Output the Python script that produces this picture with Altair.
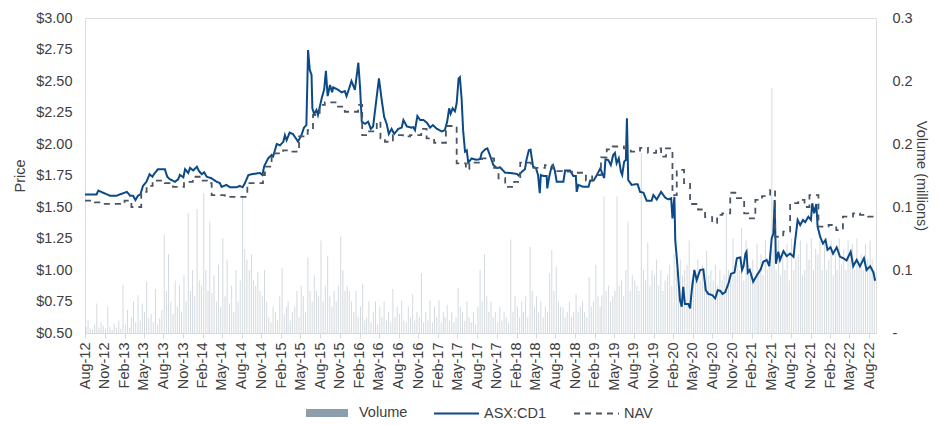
import altair as alt
import pandas as pd

# ---------------- data ----------------
PRICE_2012 = [("2012-08-01", 1.60), ("2012-09-24", 1.60), ("2012-10-02", 1.63), ("2012-11-25", 1.59), ("2012-12-26", 1.59)]
PRICE_2013 = [("2013-01-27", 1.61), ("2013-02-12", 1.62), ("2013-02-27", 1.59), ("2013-03-13", 1.59), ("2013-03-24", 1.555),
              ("2013-04-05", 1.59), ("2013-04-16", 1.60), ("2013-04-28", 1.667), ("2013-05-14", 1.70), ("2013-05-29", 1.76),
              ("2013-06-11", 1.74), ("2013-06-22", 1.77), ("2013-07-07", 1.80), ("2013-08-08", 1.80), ("2013-08-19", 1.74),
              ("2013-09-01", 1.72), ("2013-09-24", 1.70), ("2013-10-09", 1.72), ("2013-10-17", 1.755), ("2013-11-02", 1.735),
              ("2013-11-10", 1.80), ("2013-11-25", 1.77), ("2013-12-03", 1.81), ("2013-12-18", 1.79)]
PRICE_2014 = [("2014-01-04", 1.82), ("2014-01-14", 1.785), ("2014-01-27", 1.76), ("2014-02-07", 1.775), ("2014-02-19", 1.74),
              ("2014-03-13", 1.728), ("2014-04-06", 1.70), ("2014-04-21", 1.69), ("2014-04-29", 1.66), ("2014-05-22", 1.675),
              ("2014-06-07", 1.657), ("2014-07-08", 1.657), ("2014-07-23", 1.667), ("2014-08-05", 1.657), ("2014-08-16", 1.69),
              ("2014-09-01", 1.754), ("2014-09-16", 1.76), ("2014-10-25", 1.77), ("2014-11-05", 1.754), ("2014-11-14", 1.825),
              ("2014-12-02", 1.886), ("2014-12-18", 1.913), ("2014-12-25", 1.90)]
PRICE_2015 = [("2015-01-11", 2.0), ("2015-01-26", 1.99), ("2015-02-11", 2.018), ("2015-02-18", 2.07), ("2015-02-26", 2.03),
              ("2015-03-12", 2.09), ("2015-03-27", 2.08), ("2015-04-20", 2.02), ("2015-05-06", 2.07), ("2015-05-18", 2.13),
              ("2015-05-29", 2.15), ("2015-06-06", 2.746), ("2015-06-14", 2.587), ("2015-06-22", 2.55), ("2015-06-26", 2.283),
              ("2015-07-04", 2.238), ("2015-07-15", 2.27), ("2015-07-22", 2.23), ("2015-08-08", 2.36), ("2015-08-20", 2.434),
              ("2015-08-28", 2.58), ("2015-09-05", 2.38), ("2015-09-16", 2.468), ("2015-09-26", 2.41), ("2015-10-01", 2.45),
              ("2015-10-24", 2.43), ("2015-11-09", 2.41), ("2015-11-24", 2.42), ("2015-12-02", 2.38), ("2015-12-17", 2.455),
              ("2015-12-25", 2.50)]
PRICE_2016 = [("2016-01-10", 2.43), ("2016-01-26", 2.645), ("2016-02-03", 2.45), ("2016-02-11", 2.177), ("2016-02-26", 2.16),
              ("2016-03-12", 2.177), ("2016-03-24", 2.12), ("2016-04-04", 2.14), ("2016-04-15", 2.296), ("2016-05-01", 2.52),
              ("2016-05-13", 2.36), ("2016-05-25", 2.217), ("2016-06-06", 2.16), ("2016-06-16", 2.08), ("2016-06-29", 2.12),
              ("2016-07-11", 2.08), ("2016-07-30", 2.12), ("2016-08-15", 2.13), ("2016-08-23", 2.19), ("2016-09-08", 2.14),
              ("2016-10-01", 2.13), ("2016-10-08", 2.133), ("2016-10-16", 2.11), ("2016-10-27", 2.222), ("2016-11-09", 2.19),
              ("2016-11-24", 2.19), ("2016-12-10", 2.17), ("2016-12-25", 2.13)]
PRICE_2017 = [("2017-01-07", 2.15), ("2017-01-26", 2.12), ("2017-02-18", 2.10), ("2017-03-04", 2.11), ("2017-03-15", 2.18),
              ("2017-03-24", 2.283), ("2017-03-31", 2.24), ("2017-04-09", 2.283), ("2017-04-20", 2.26), ("2017-04-28", 2.323),
              ("2017-05-07", 2.52), ("2017-05-13", 2.53), ("2017-05-21", 2.36), ("2017-05-28", 2.11), ("2017-06-06", 1.94),
              ("2017-06-14", 1.95), ("2017-06-21", 1.852), ("2017-07-07", 1.885), ("2017-07-30", 1.875), ("2017-08-15", 1.88),
              ("2017-08-23", 1.93), ("2017-09-08", 1.958), ("2017-09-18", 1.965), ("2017-09-30", 1.91), ("2017-10-16", 1.833),
              ("2017-11-01", 1.81), ("2017-11-16", 1.815), ("2017-12-10", 1.772)]
PRICE_2018 = [("2018-01-03", 1.77), ("2018-02-03", 1.762), ("2018-02-10", 1.75), ("2018-02-26", 1.78), ("2018-03-12", 1.80),
              ("2018-03-19", 1.873), ("2018-03-30", 1.95), ("2018-04-07", 1.955), ("2018-04-19", 1.82), ("2018-05-02", 1.81),
              ("2018-05-12", 1.754), ("2018-05-20", 1.61), ("2018-05-25", 1.754), ("2018-06-05", 1.747), ("2018-06-21", 1.747),
              ("2018-06-24", 1.648), ("2018-07-03", 1.74), ("2018-07-14", 1.82), ("2018-07-21", 1.833), ("2018-07-29", 1.79),
              ("2018-08-07", 1.70), ("2018-09-07", 1.70), ("2018-09-15", 1.79), ("2018-10-08", 1.79), ("2018-10-23", 1.747),
              ("2018-11-04", 1.747), ("2018-11-08", 1.62), ("2018-11-16", 1.675), ("2018-12-09", 1.66)]
PRICE_2019 = [("2019-01-02", 1.66), ("2019-01-10", 1.71), ("2019-01-26", 1.71), ("2019-02-10", 1.754), ("2019-02-26", 1.807),
              ("2019-03-04", 1.78), ("2019-03-16", 1.73), ("2019-03-22", 1.878), ("2019-04-04", 1.873), ("2019-04-16", 1.833),
              ("2019-04-27", 1.913), ("2019-05-05", 1.93), ("2019-05-13", 1.847), ("2019-05-23", 1.886), ("2019-06-02", 1.78),
              ("2019-06-08", 1.754), ("2019-06-17", 1.86), ("2019-06-25", 1.873), ("2019-06-30", 2.204), ("2019-07-06", 1.714),
              ("2019-07-22", 1.675), ("2019-08-07", 1.68), ("2019-08-19", 1.68), ("2019-08-30", 1.62), ("2019-09-15", 1.613),
              ("2019-09-30", 1.55), ("2019-10-23", 1.55), ("2019-10-31", 1.595), ("2019-11-16", 1.56), ("2019-12-06", 1.62),
              ("2019-12-25", 1.575)]
PRICE_2020 = [("2020-01-10", 1.56), ("2020-01-22", 1.57), ("2020-01-28", 1.41), ("2020-02-06", 1.58), ("2020-02-10", 1.238),
              ("2020-02-18", 1.079), ("2020-02-25", 0.92), ("2020-03-03", 0.762), ("2020-03-11", 0.709), ("2020-03-18", 0.867),
              ("2020-03-26", 0.73), ("2020-04-11", 0.73), ("2020-04-19", 0.696), ("2020-04-27", 0.84), ("2020-05-09", 1.0),
              ("2020-05-20", 0.92), ("2020-06-05", 1.0), ("2020-06-20", 1.005), ("2020-07-01", 0.84), ("2020-07-13", 0.81),
              ("2020-08-01", 0.80), ("2020-08-14", 0.775), ("2020-08-26", 0.84), ("2020-09-07", 0.835), ("2020-09-17", 0.81),
              ("2020-09-30", 0.825), ("2020-10-15", 0.894), ("2020-10-27", 0.97), ("2020-11-12", 0.98), ("2020-11-23", 1.093),
              ("2020-12-09", 1.10), ("2020-12-17", 1.0), ("2020-12-24", 1.03)]
PRICE_2021 = [("2021-01-02", 1.13), ("2021-01-07", 1.145), ("2021-01-13", 0.98), ("2021-01-22", 1.0), ("2021-02-07", 0.907),
              ("2021-02-25", 0.96), ("2021-03-14", 1.005), ("2021-03-26", 1.066), ("2021-04-11", 1.08), ("2021-04-23", 1.03),
              ("2021-05-04", 1.25), ("2021-05-12", 1.29), ("2021-05-18", 1.556), ("2021-05-24", 1.05), ("2021-06-04", 1.145),
              ("2021-06-12", 1.08), ("2021-06-28", 1.15), ("2021-07-13", 1.11), ("2021-07-29", 1.13), ("2021-08-14", 1.105),
              ("2021-08-22", 1.238), ("2021-09-02", 1.397), ("2021-09-14", 1.357), ("2021-09-27", 1.397), ("2021-10-07", 1.38),
              ("2021-10-22", 1.423), ("2021-11-03", 1.397), ("2021-11-09", 1.53), ("2021-11-18", 1.45), ("2021-11-28", 1.524),
              ("2021-12-04", 1.344), ("2021-12-16", 1.264), ("2021-12-29", 1.21)]
PRICE_2022 = [("2022-01-10", 1.238), ("2022-01-19", 1.16), ("2022-02-02", 1.18), ("2022-02-14", 1.13), ("2022-03-03", 1.18),
              ("2022-03-18", 1.106), ("2022-04-03", 1.093), ("2022-04-18", 1.076), ("2022-05-07", 1.145), ("2022-05-19", 1.03),
              ("2022-06-04", 1.08), ("2022-06-19", 1.03), ("2022-07-08", 1.093), ("2022-07-20", 1.0), ("2022-08-06", 1.03),
              ("2022-08-21", 0.98), ("2022-08-29", 0.915)]

NAV_2012_2014 = [("2012-08-01", 1.55), ("2012-09-16", 1.536), ("2012-11-01", 1.525), ("2013-01-11", 1.536), ("2013-02-01", 1.55),
                 ("2013-03-05", 1.50), ("2013-04-20", 1.62), ("2013-05-15", 1.667), ("2013-06-12", 1.71), ("2013-08-08", 1.69),
                 ("2013-09-15", 1.66), ("2013-11-05", 1.70), ("2013-12-16", 1.74), ("2014-01-23", 1.71), ("2014-02-20", 1.69),
                 ("2014-03-14", 1.595), ("2014-05-14", 1.58), ("2014-08-27", 1.69), ("2014-11-08", 1.754), ("2014-11-17", 1.82),
                 ("2014-12-18", 1.90), ("2014-12-24", 1.926)]
NAV_2015_2017 = [("2015-02-10", 1.95), ("2015-03-16", 1.94), ("2015-04-25", 2.06), ("2015-06-04", 2.11), ("2015-06-29", 2.23),
                 ("2015-07-30", 2.31), ("2015-08-23", 2.33), ("2015-10-18", 2.296), ("2015-11-24", 2.256), ("2016-01-25", 2.31),
                 ("2016-02-13", 2.07), ("2016-03-10", 2.10), ("2016-04-21", 2.177), ("2016-05-08", 2.045), ("2016-05-29", 2.018),
                 ("2016-07-05", 2.07), ("2016-08-21", 2.06), ("2016-09-23", 2.07), ("2016-11-14", 2.12), ("2016-12-09", 2.045),
                 ("2017-01-13", 2.01), ("2017-03-09", 2.143), ("2017-04-28", 1.847), ("2017-06-10", 1.80), ("2017-06-26", 1.852),
                 ("2017-08-24", 1.886), ("2017-10-19", 1.81), ("2017-11-09", 1.728), ("2017-12-10", 1.66)]
NAV_2018_2020 = [("2018-01-21", 1.70), ("2018-02-18", 1.852), ("2018-04-09", 1.81), ("2018-06-13", 1.833), ("2018-07-21", 1.785),
                 ("2018-09-01", 1.78), ("2018-11-01", 1.772), ("2018-12-21", 1.71), ("2019-01-19", 1.754), ("2019-03-01", 1.894),
                 ("2019-03-28", 1.958), ("2019-04-25", 1.98), ("2019-06-16", 1.966), ("2019-07-18", 1.94), ("2019-08-30", 1.97),
                 ("2019-10-06", 1.93), ("2019-11-13", 1.966), ("2019-12-06", 1.90), ("2019-12-29", 1.966), ("2020-01-28", 1.595),
                 ("2020-02-17", 1.794), ("2020-03-22", 1.69), ("2020-04-19", 1.524), ("2020-05-26", 1.48), ("2020-06-28", 1.42),
                 ("2020-07-31", 1.375), ("2020-08-23", 1.437), ("2020-09-16", 1.45), ("2020-10-23", 1.613), ("2020-11-16", 1.57),
                 ("2020-12-13", 1.54), ("2020-12-27", 1.45)]
NAV_2021_2022 = [("2021-01-15", 1.41), ("2021-02-17", 1.556), ("2021-03-20", 1.587), ("2021-04-27", 1.635), ("2021-05-20", 1.264),
                 ("2021-06-27", 1.304), ("2021-07-29", 1.53), ("2021-09-05", 1.556), ("2021-10-04", 1.50), ("2021-10-27", 1.595),
                 ("2021-12-08", 1.344), ("2022-01-24", 1.357), ("2022-03-01", 1.317), ("2022-04-01", 1.423), ("2022-05-18", 1.45),
                 ("2022-06-19", 1.437), ("2022-07-27", 1.423), ("2022-08-29", 1.423)]

# Volume (thousands of shares), three readings per month (around the 5th, 15th, 25th)
VOL_DAYS = [5, 15, 25]
VOL = {
    2012: (8, [6, 12, 4, 3, 8, 28, 5, 10, 7, 4, 25, 6, 3, 9, 5]),
    2013: (1, [12, 4, 46, 8, 22, 5, 15, 30, 10, 36, 12, 28, 20, 49, 14, 18, 10, 42,
               8, 14, 22, 93, 40, 75, 30, 18, 50, 25, 45, 20, 55, 30, 114, 40, 60, 35]),
    2014: (1, [118, 50, 45, 133, 60, 40, 106, 38, 55, 30, 65, 25, 90, 35, 70, 28, 45, 20,
               60, 30, 50, 131, 80, 70, 60, 75, 50, 45, 58, 40, 35, 60, 30, 15, 10, 25]),
    2015: (1, [20, 12, 35, 62, 18, 25, 30, 12, 20, 25, 40, 15, 45, 35, 20, 72, 40, 30,
               55, 40, 35, 88, 30, 45, 73, 35, 25, 40, 30, 45, 92, 60, 40, 45, 40, 30]),
    2016: (1, [20, 40, 15, 25, 47, 12, 15, 30, 10, 20, 30, 8, 25, 15, 30, 12, 20, 10,
               42, 15, 25, 18, 31, 12, 10, 25, 15, 37, 12, 20, 15, 57, 10, 20, 12, 31]),
    2017: (1, [10, 25, 15, 31, 10, 20, 15, 27, 12, 20, 10, 15, 43, 25, 20, 12, 30, 15,
               10, 20, 8, 25, 60, 30, 75, 35, 20, 30, 15, 20, 10, 25, 12, 20, 15, 10]),
    2018: (1, [89, 20, 35, 25, 15, 30, 20, 35, 15, 82, 40, 25, 35, 20, 30, 15, 25, 20,
               57, 79, 40, 63, 30, 25, 24, 15, 20, 30, 15, 20, 37, 20, 25, 30, 20, 15]),
    2019: (1, [53, 25, 30, 65, 35, 25, 36, 130, 40, 45, 30, 35, 40, 130, 45, 50, 35, 60,
               106, 40, 55, 50, 45, 40, 172, 60, 50, 86, 45, 60, 55, 70, 45, 60, 40, 50]),
    2020: (1, [55, 65, 45, 75, 60, 50, 70, 55, 60, 65, 88, 50, 60, 55, 70, 50, 65, 45,
               78, 55, 60, 50, 65, 45, 60, 50, 55, 114, 60, 50, 90, 55, 65, 60, 100, 50]),
    2021: (1, [88, 60, 55, 70, 50, 85, 60, 75, 55, 88, 60, 70, 233, 80, 60, 88, 55, 75,
               60, 85, 50, 90, 60, 70, 75, 88, 55, 60, 85, 70, 90, 60, 80, 75, 88, 60]),
    2022: (1, [85, 60, 70, 88, 55, 75, 60, 90, 65, 80, 60, 88, 70, 85, 60, 90, 65, 75,
               60, 85, 70, 88, 70, 60]),
}

X_TICKS = [(2012 + (7 + 3 * i) // 12, (7 + 3 * i) % 12 + 1) for i in range(41)]
PRICE_TICKS = [0.5, 0.75, 1.0, 1.25, 1.5, 1.75, 2.0, 2.25, 2.5, 2.75, 3.0]
VOL_TICKS = [0, 0.06, 0.12, 0.18, 0.24, 0.3]

# ---------------- tables ----------------
price_rows = PRICE_2012 + PRICE_2013 + PRICE_2014 + PRICE_2015 + PRICE_2016 + PRICE_2017 + \
    PRICE_2018 + PRICE_2019 + PRICE_2020 + PRICE_2021 + PRICE_2022
price_df = pd.DataFrame(price_rows, columns=["date", "value"])
price_df["s"] = "ASX:CD1"

nav_rows = NAV_2012_2014 + NAV_2015_2017 + NAV_2018_2020 + NAV_2021_2022
nav_df = pd.DataFrame(nav_rows, columns=["date", "value"])
nav_df["s"] = "NAV"

vol_rows = []
for year, (start_month, vals) in VOL.items():
    for k, v in enumerate(vals):
        month = start_month + k // 3
        day = VOL_DAYS[k % 3]
        vol_rows.append((f"{year}-{month:02d}-{day:02d}", v / 1000.0))
vol_df = pd.DataFrame(vol_rows, columns=["date", "vol"])
vol_df["s"] = "Volume"

# ---------------- styling ----------------
FONT = "Liberation Sans"
TXT = "#404040"
FS = 14.5

x_scale = alt.Scale(type="utc", padding=0,
                    domain=[alt.DateTime(year=2012, month=8, date=1, utc=True),
                            alt.DateTime(year=2022, month=9, date=2, utc=True)])
x_axis = alt.Axis(values=[alt.DateTime(year=y, month=m, date=1, utc=True) for y, m in X_TICKS],
                  format="%b-%y", labelAngle=270, labelOverlap=False, labelFontSize=FS,
                  labelColor=TXT, labelFont=FONT, labelPadding=4, tickSize=5, tickColor="#d9d9d9",
                  domainColor="#d9d9d9", grid=False, title=None, labelFlush=False, labelBound=False)
x_enc = alt.X("date:T", scale=x_scale, axis=x_axis)

vol_legend = alt.Legend(orient="none", legendX=220, legendY=373, direction="horizontal", title=None,
                        symbolType="M-1,-0.19H1V0.19H-1Z", symbolSize=1764, symbolOpacity=1,
                        labelFontSize=FS, labelColor=TXT, labelFont=FONT, labelOffset=10)
line_legend = alt.Legend(orient="none", legendX=348, legendY=372, direction="horizontal", title=None,
                         symbolType="stroke", symbolSize=2025, symbolStrokeWidth=2,
                         labelFontSize=FS, labelColor=TXT, labelFont=FONT, labelOffset=4,
                         columnPadding=23)

vol_chart = alt.Chart(vol_df).mark_bar(width=1, opacity=0.38).encode(
    x=x_enc,
    y=alt.Y("vol:Q", scale=alt.Scale(domain=[0, 0.3], nice=False, zero=True),
            axis=alt.Axis(orient="right", values=VOL_TICKS,
                          labelExpr="datum.value == 0 ? '-' : format(datum.value, '.1f')",
                          title="Volume (millions)", domain=False, ticks=False, grid=False,
                          labelPadding=16, titlePadding=1, labelFontSize=FS, labelColor=TXT,
                          labelFont=FONT, titleFontSize=FS, titleColor=TXT, titleFont=FONT,
                          titleFontWeight="normal")),
    fill=alt.Fill("s:N", scale=alt.Scale(domain=["Volume"], range=["#8c9dab"]), legend=vol_legend),
)

stroke_scale = alt.Scale(domain=["ASX:CD1", "NAV"], range=["#0c4a87", "#4a5663"])
dash_scale = alt.Scale(domain=["ASX:CD1", "NAV"], range=[[1, 0], [6, 5]])
price_y_scale = alt.Scale(domain=[0.5, 3.0], nice=False, zero=False)

price_chart = alt.Chart(price_df).mark_line(strokeWidth=2).encode(
    x=x_enc,
    y=alt.Y("value:Q", scale=price_y_scale,
            axis=alt.Axis(orient="left", values=PRICE_TICKS, format="$.2f", title="Price",
                          domain=False, ticks=False, grid=False, labelPadding=13, titlePadding=8,
                          labelFontSize=FS, labelColor=TXT, labelFont=FONT, titleFontSize=FS,
                          titleColor=TXT, titleFont=FONT, titleFontWeight="normal")),
    stroke=alt.Stroke("s:N", scale=stroke_scale, legend=line_legend),
    strokeDash=alt.StrokeDash("s:N", scale=dash_scale, legend=line_legend),
)

nav_chart = alt.Chart(nav_df).mark_line(strokeWidth=1.8, interpolate="step-after").encode(
    x=x_enc,
    y=alt.Y("value:Q", scale=price_y_scale, axis=None),
    stroke=alt.Stroke("s:N", scale=stroke_scale, legend=line_legend),
    strokeDash=alt.StrokeDash("s:N", scale=dash_scale, legend=line_legend),
)

chart = alt.layer(vol_chart, price_chart, nav_chart).resolve_scale(
    y="independent"
).properties(
    width=791, height=315,
    autosize=alt.AutoSizeParams(type="none"),
    padding={"left": 77, "top": 10, "right": 55, "bottom": 90},
    background="white",
).configure_view(stroke=None).configure(font=FONT)

chart.save("out.html", embed_options={"renderer": "svg", "actions": False})
